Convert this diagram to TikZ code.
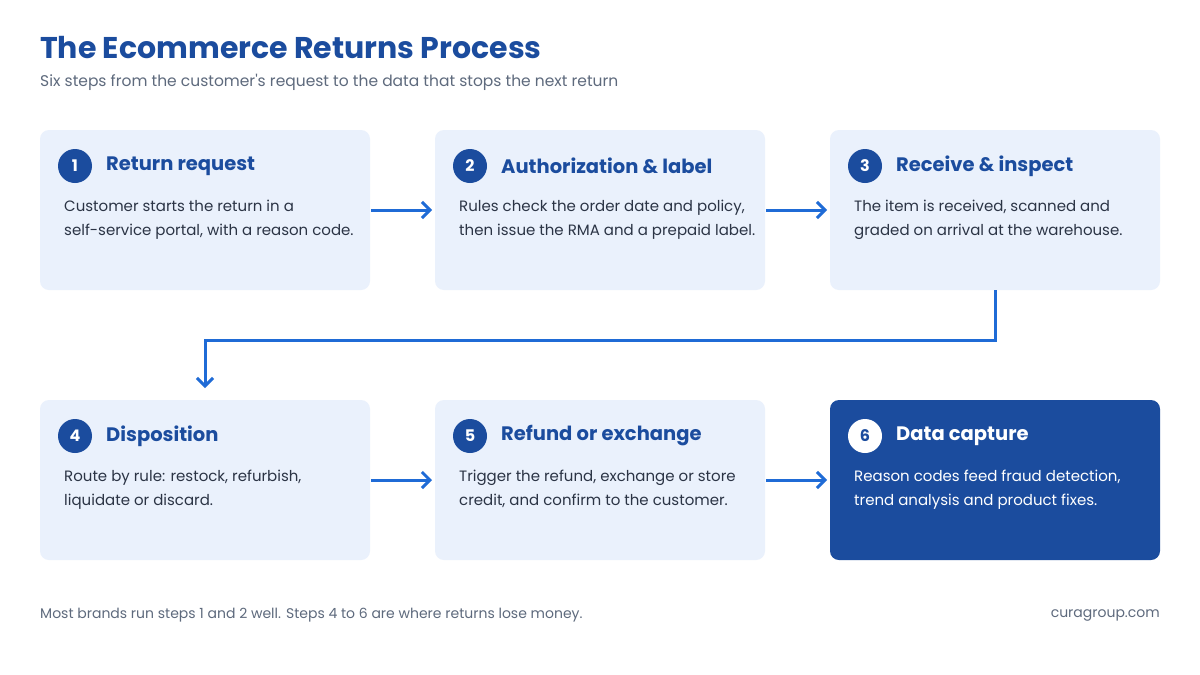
\documentclass[tikz,border=0pt]{standalone}
\usepackage{fontspec}
\setmainfont{Poppins}[Ligatures=TeXOff]
\usetikzlibrary{arrows.meta}
\definecolor{navy}{HTML}{1B4C9E}
\definecolor{cardbg}{HTML}{EAF1FC}
\definecolor{arrowc}{HTML}{1F6BD6}
\definecolor{greyt}{HTML}{5E6A7D}
\definecolor{bodyt}{HTML}{2B3445}
\tikzset{
 card/.style={fill=cardbg,rounded corners=9pt,draw=none},
 darkcard/.style={fill=navy,rounded corners=9pt,draw=none},
 num/.style={circle,fill=navy,text=white,minimum size=34pt,inner sep=0pt,font=\fontsize{16}{16}\selectfont\bfseries},
 numw/.style={circle,fill=white,text=navy,minimum size=34pt,inner sep=0pt,font=\fontsize{16}{16}\selectfont\bfseries},
 ttl/.style={anchor=west,inner sep=0pt,text=navy,font=\fontsize{19.5}{19.5}\selectfont\bfseries},
 body/.style={anchor=north west,inner sep=0pt,text=bodyt,align=left,font=\fontsize{15}{24}\selectfont},
 arr/.style={draw=arrowc,line width=3pt,-{Straight Barb[length=8pt,width=16pt,line width=3pt]}}
}
\begin{document}
\begin{tikzpicture}[x=1pt,y=-1pt]
\useasboundingbox[fill=white] (0,0) rectangle (1200,675);
\node[anchor=west,inner sep=0pt,text=navy,font=\fontsize{30}{30}\selectfont\bfseries] (title) at (40,48) {The Ecommerce Returns Process};
\node[anchor=west,inner sep=0pt,text=greyt,font=\fontsize{15.5}{15.5}\selectfont] (sub) at (40,82) {Six steps from the customer's request to the data that stops the next return};
\foreach \n/\x/\y/\s in {c1/40/130/card,c2/435/130/card,c3/830/130/card,c4/40/400/card,c5/435/400/card}{
  \path[\s] (\x,\y) rectangle ++(330,160);
  \coordinate (\n) at (\x,\y);
}
\path[darkcard] (830,400) rectangle ++(330,160);
\node[num] (n1) at (75,166) {1};
\node[ttl] (t1) at (106,166) {Return request};
\node[body] (b1) at (64,200) {Customer starts the return in a\\self-service portal, with a reason code.};
\node[num] (n2) at (470,166) {2};
\node[ttl] (t2) at (501,166) {Authorization \& label};
\node[body] (b2) at (459,200) {Rules check the order date and policy,\\then issue the RMA and a prepaid label.};
\node[num] (n3) at (865,166) {3};
\node[ttl] (t3) at (896,166) {Receive \& inspect};
\node[body] (b3) at (854,200) {The item is received, scanned and\\graded on arrival at the warehouse.};
\node[num] (n4) at (75,436) {4};
\node[ttl] (t4) at (106,436) {Disposition};
\node[body] (b4) at (64,470) {Route by rule: restock, refurbish,\\liquidate or discard.};
\node[num] (n5) at (470,436) {5};
\node[ttl] (t5) at (501,436) {Refund or exchange};
\node[body] (b5) at (459,470) {Trigger the refund, exchange or store\\credit, and confirm to the customer.};
\node[numw] (n6) at (865,436) {6};
\node[ttl,text=white] (t6) at (896,436) {Data capture};
\node[body,text=white] (b6) at (854,470) {Reason codes feed fraud detection,\\trend analysis and product fixes.};
\coordinate (a1s) at (371,210); \coordinate (a1e) at (432,210);
\coordinate (a2s) at (766,210); \coordinate (a2e) at (827,210);
\coordinate (a4s) at (371,480); \coordinate (a4e) at (432,480);
\coordinate (a5s) at (766,480); \coordinate (a5e) at (827,480);
\coordinate (a3s) at (995,290); \coordinate (a3e) at (205,388);
\draw[arr] (a1s) -- (a1e);
\draw[arr] (a2s) -- (a2e);
\draw[arr] (a4s) -- (a4e);
\draw[arr] (a5s) -- (a5e);
\draw[arr] (a3s) |- (600,340) -| (a3e);
\node[anchor=west,inner sep=0pt,text=greyt,font=\fontsize{14}{14}\selectfont] (f1) at (40,615) {Most brands run steps 1 and 2 well. Steps 4 to 6 are where returns lose money.};
\node[anchor=east,inner sep=0pt,text=greyt,font=\fontsize{14}{14}\selectfont] (f2) at (1160,615) {curagroup.com};
\end{tikzpicture}
\end{document}
